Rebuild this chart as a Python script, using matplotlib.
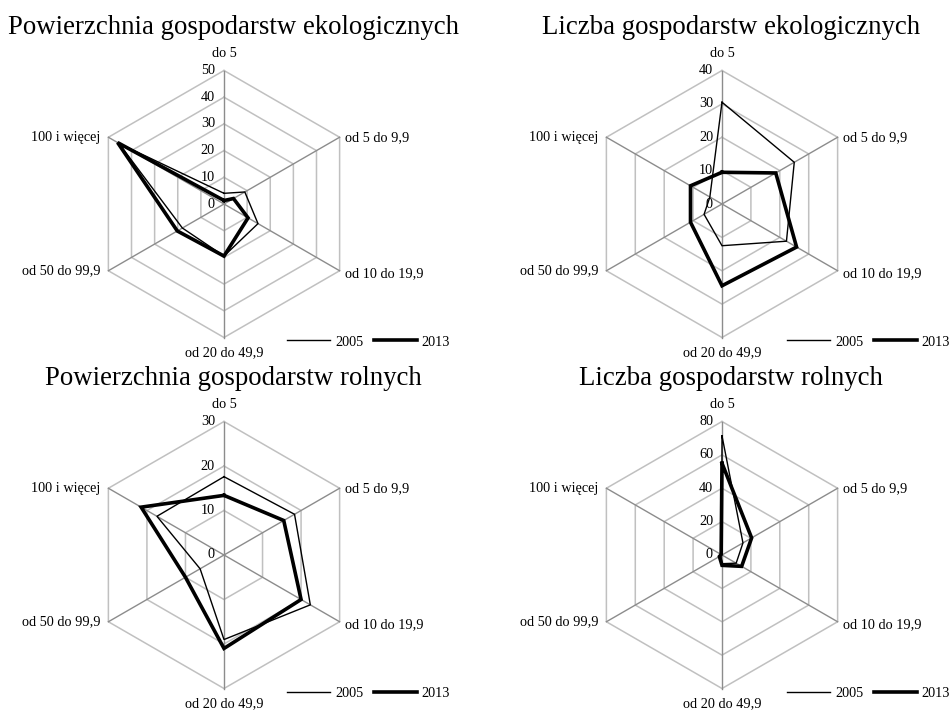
import numpy as np
import matplotlib.pyplot as plt

plt.rcParams['font.family'] = ['Liberation Serif', 'DejaVu Serif']

categories = ['do 5', 'od 5 do 9,9', 'od 10 do 19,9', 'od 20 do 49,9',
              'od 50 do 99,9', '100 i więcej']
years = ['2005', '2013']

# udzialy procentowe wg grup obszarowych
eko_area_2005 = [4.0, 9.0, 14.7, 19.5, 18.0, 45.5]
eko_area_2013 = [1.3, 4.1, 10.4, 19.5, 20.2, 46.0]
eko_count_2005 = [30.5, 25.0, 22.3, 12.5, 6.2, 4.2]
eko_count_2013 = [9.5, 18.6, 25.8, 24.5, 10.9, 10.9]
agri_area_2005 = [17.6, 18.3, 22.4, 19.0, 6.2, 17.4]
agri_area_2013 = [13.4, 15.5, 20.0, 21.0, 10.0, 21.5]
agri_count_2005 = [71.4, 14.5, 9.8, 5.2, 0.8, 0.2]
agri_count_2013 = [55.0, 20.5, 13.6, 6.2, 1.8, 0.6]

titles = ['Powierzchnia gospodarstw ekologicznych', 'Liczba gospodarstw ekologicznych',
          'Powierzchnia gospodarstw rolnych', 'Liczba gospodarstw rolnych']
ticks_list = [[0, 10, 20, 30, 40, 50], [0, 10, 20, 30, 40],
              [0, 10, 20, 30], [0, 20, 40, 60, 80]]

W, H = 950, 713
fig = plt.figure(figsize=(W / 100, H / 100), dpi=100)

angles = np.deg2rad([90, 30, -30, -90, -150, 150])
R = 133.5   # promien siatki w pikselach
BOX = 150   # polowa boku osi w pikselach
FS = 10.3


def draw_radar(cx, cy, title, title_x, v2005, v2013, ticks, legend_x, legend_y):
    rmax = ticks[-1]
    ax = fig.add_axes([(cx - BOX) / W, (H - cy - BOX) / H, 2 * BOX / W, 2 * BOX / H])
    lim = rmax * BOX / R
    ax.set_xlim(-lim, lim)
    ax.set_ylim(-lim, lim)
    ax.axis('off')

    ca = np.append(np.cos(angles), np.cos(angles[0]))
    sa = np.append(np.sin(angles), np.sin(angles[0]))

    # siatka
    for t in ticks[1:]:
        ax.plot(t * ca, t * sa, color='#c0c0c0', lw=1.1, zorder=1)
    for a in angles:
        ax.plot([0, rmax * np.cos(a)], [0, rmax * np.sin(a)], color='#8c8c8c', lw=1.0, zorder=2)

    # etykiety skali
    off = 9 / R * rmax
    for t in ticks:
        ax.text(-off, t, str(t), ha='right', va='center', fontsize=FS)

    # etykiety kategorii
    offsets = [(0, 17, 'center'), (5, 0, 'left'), (5, -3, 'left'),
               (0, -15, 'center'), (-8, 0, 'right'), (-8, 0, 'right')]
    for cat, a, (dx, dy, ha) in zip(categories, angles, offsets):
        ax.annotate(cat, xy=(rmax * np.cos(a), rmax * np.sin(a)), xytext=(dx, dy),
                    textcoords='offset pixels', ha=ha, va='center', fontsize=FS,
                    annotation_clip=False)

    handles = []
    for vals, lw in [(v2005, 1.0), (v2013, 2.6)]:
        v = np.append(vals, vals[0])
        ln, = ax.plot(v * ca, v * sa, color='black', lw=lw, zorder=3,
                      solid_joinstyle='miter')
        handles.append(ln)

    fig.text(title_x / W, 1 - (cy - 177) / H, title, ha='center', va='center', fontsize=19.3)

    fig.legend(handles, years, loc='center left',
               bbox_to_anchor=(legend_x / W, 1 - legend_y / H),
               ncol=2, frameon=False, fontsize=FS, handlelength=3.0,
               handletextpad=0.35, columnspacing=0.75, borderpad=0, borderaxespad=0)


draw_radar(224, 204, titles[0], 233, eko_area_2005, eko_area_2013, ticks_list[0], 287, 342)
draw_radar(722, 204, titles[1], 731, eko_count_2005, eko_count_2013, ticks_list[1], 787, 342)
draw_radar(224, 555, titles[2], 233, agri_area_2005, agri_area_2013, ticks_list[2], 287, 693)
draw_radar(722, 555, titles[3], 731, agri_count_2005, agri_count_2013, ticks_list[3], 787, 693)

fig.savefig('out.png', dpi=100)
